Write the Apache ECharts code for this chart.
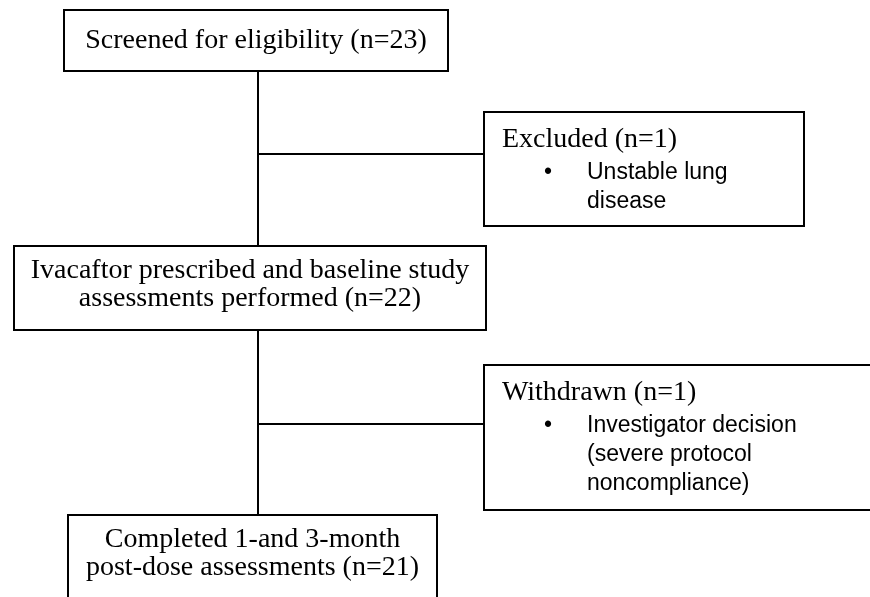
<!DOCTYPE html>
<html>
<head>
<meta charset="utf-8">
<title>Study flow</title>
<script src="https://cdn.jsdelivr.net/npm/echarts@6/dist/echarts.min.js"></script>
<style>
  html, body { margin: 0; padding: 0; background: #fff; }
  #chart { width: 870px; height: 597px; }
</style>
</head>
<body>
<div id="chart"></div>
<script>
  // main flow, top to bottom
  var stageTitles = [
    ['Screened for eligibility (n=23)'],
    ['Ivacaftor prescribed and baseline study', 'assessments performed (n=22)'],
    ['Completed 1-and 3-month', 'post-dose assessments (n=21)']
  ]
  // side boxes
  var exitTitles = ['Excluded (n=1)', 'Withdrawn (n=1)']
  var exitReasons = [
    ['Unstable lung', 'disease'],
    ['Investigator decision', '(severe protocol', 'noncompliance)']
  ]

  // layout, in page pixels (x0, y0, x1, y1)
  var stageBox = [[64, 10, 448, 71], [14, 246, 486, 330], [68, 515, 437, 640]]
  var stageTextY = [41, 271, 540]
  var exitBox = [[484, 112, 804, 226], [484, 365, 880, 510]]
  var spineX = 258
  var branchY = [154, 424]

  var SERIF = '28px "Liberation Serif", "Times New Roman", serif'
  var SANS = '23px "Liberation Sans", Arial, sans-serif'

  function box (api, b) {
    var p0 = api.coord([b[0], b[1]])
    var p1 = api.coord([b[2], b[3]])
    return {
      p0: p0,
      p1: p1,
      el: {
        type: 'rect',
        shape: { x: p0[0], y: p0[1], width: p1[0] - p0[0], height: p1[1] - p0[1] },
        style: { fill: '#fff', stroke: '#000', lineWidth: 2 }
      }
    }
  }

  function label (x, y, text, font, align) {
    return {
      type: 'text',
      x: x,
      y: y,
      style: { text: text, font: font, fill: '#000', align: align, verticalAlign: 'middle' }
    }
  }

  function renderStage (params, api) {
    var i = params.dataIndex
    var b = box(api, stageBox[i])
    var cx = (b.p0[0] + b.p1[0]) / 2
    var children = [b.el]
    stageTitles[i].forEach(function (t, k) {
      var p = api.coord([0, stageTextY[i] + k * 28])
      children.push(label(cx, p[1], t, SERIF, 'center'))
    })
    return { type: 'group', children: children }
  }

  function renderExit (params, api) {
    var i = params.dataIndex
    var b = box(api, exitBox[i])
    var children = [b.el]
    var top = exitBox[i][1]
    var t = api.coord([exitBox[i][0] + 18, top + 28])
    children.push(label(t[0], t[1], exitTitles[i], SERIF, 'left'))
    exitReasons[i].forEach(function (r, k) {
      var p = api.coord([exitBox[i][0] + 103, top + 61 + k * 29])
      if (k === 0) {
        var d = api.coord([exitBox[i][0] + 64, top + 61])
        children.push(label(d[0], d[1], '•', SANS, 'center'))
      }
      children.push(label(p[0], p[1], r, SANS, 'left'))
    })
    return { type: 'group', children: children }
  }

  function renderLinks (params, api) {
    var segs = [
      [[spineX, stageBox[0][3]], [spineX, stageBox[1][1]]],
      [[spineX, stageBox[1][3]], [spineX, stageBox[2][1]]],
      [[spineX, branchY[0]], [exitBox[0][0], branchY[0]]],
      [[spineX, branchY[1]], [exitBox[1][0], branchY[1]]]
    ]
    return {
      type: 'group',
      children: segs.map(function (s) {
        var a = api.coord(s[0])
        var b = api.coord(s[1])
        return {
          type: 'line',
          shape: { x1: a[0], y1: a[1], x2: b[0], y2: b[1] },
          style: { stroke: '#000', lineWidth: 2 }
        }
      })
    }
  }

  var myChart = echarts.init(document.getElementById('chart'))
  var option = {
    animation: false,
    grid: { left: 0, right: 0, top: 0, bottom: 0 },
    xAxis: { type: 'value', min: 0, max: 870, show: false },
    yAxis: { type: 'value', min: 0, max: 597, inverse: true, show: false },
    series: [
      {
        type: 'custom',
        clip: false,
        renderItem: renderLinks,
        data: [[0, 0]]
      },
      {
        type: 'custom',
        clip: false,
        renderItem: renderStage,
        data: stageTitles.map(function (t, i) { return [0, i] })
      },
      {
        type: 'custom',
        clip: false,
        renderItem: renderExit,
        data: exitTitles.map(function (t, i) { return [0, i] })
      }
    ]
  }
  myChart.setOption(option)
</script>
</body>
</html>
